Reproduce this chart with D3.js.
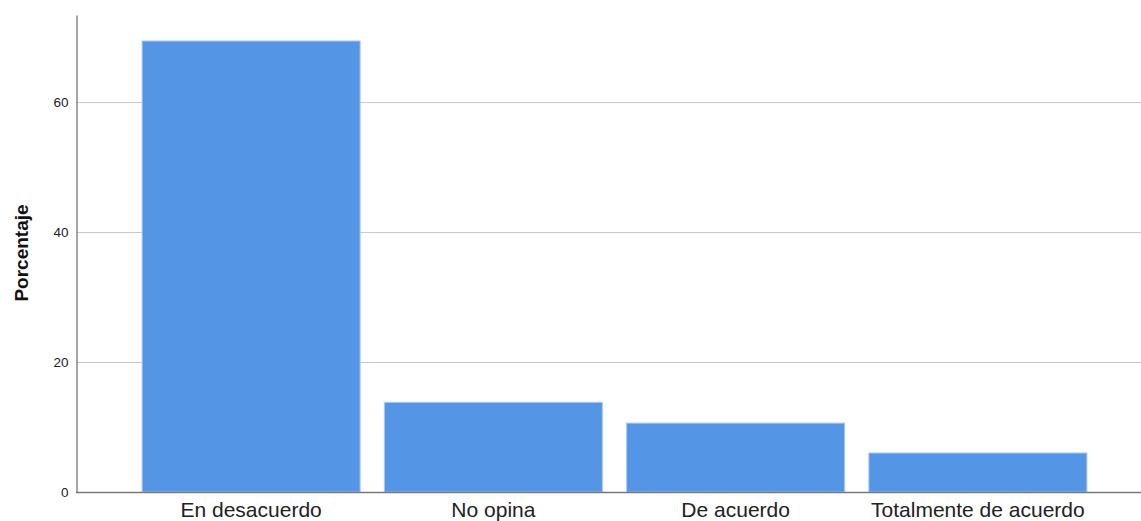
<!DOCTYPE html>
<html>
<head>
<meta charset="utf-8">
<script src="https://cdn.jsdelivr.net/npm/d3@7"></script>
<style>
html,body{margin:0;padding:0;background:#fff;}
svg{display:block;}
</style>
</head>
<body>
<svg id="chart" width="1141" height="521"></svg>
<script>
const categories = ["En desacuerdo", "No opina", "De acuerdo", "Totalmente de acuerdo"];
const values = [69.4, 13.8, 10.6, 6.0];
const yTicks = [0, 20, 40, 60];
const yLabel = "Porcentaje";

const svg = d3.select("#chart");
const x0 = 76, x1 = 1141, yBase = 492, yTop = 15;
const font = "Liberation Sans, Arial, sans-serif";

const y = d3.scaleLinear().domain([0, 73.4]).range([yBase, yTop]);
const x = d3.scaleBand().domain(categories).range([130, 1099]).paddingInner(0.1).paddingOuter(0.05);

// gridlines
svg.append("g").selectAll("line").data(yTicks.filter(d => d > 0)).join("line")
  .attr("x1", x0).attr("x2", x1)
  .attr("y1", d => y(d) + 0.5).attr("y2", d => y(d) + 0.5)
  .attr("stroke", "#c8c8c8").attr("stroke-width", 1);

// bars
svg.append("g").selectAll("rect").data(categories).join("rect")
  .attr("x", d => x(d))
  .attr("y", (d, i) => y(values[i]))
  .attr("width", x.bandwidth())
  .attr("height", (d, i) => yBase - y(values[i]))
  .attr("fill", "#5595e5")
  .attr("stroke", "#a9c9f0").attr("stroke-width", 1);

// y axis
const yAxis = d3.axisLeft(y).tickValues(yTicks).tickSize(0).tickPadding(8).tickFormat(d3.format("d"));
const gy = svg.append("g").attr("transform", `translate(${x0 + 0.5},0)`).call(yAxis);
gy.select(".domain").attr("stroke", "#888").attr("stroke-width", 1.5);
gy.selectAll("text").attr("font-family", font).attr("font-size", 13.5).attr("fill", "#222");

// x axis
const xAxis = d3.axisBottom(x).tickSize(0).tickPadding(10);
const gx = svg.append("g").attr("transform", `translate(0,${yBase + 0.5})`).call(xAxis);
gx.select(".domain").remove();
gx.append("line").attr("x1", x0).attr("x2", x1).attr("y1", 0).attr("y2", 0).attr("stroke", "#777").attr("stroke-width", 1.5);
gx.selectAll("text").attr("font-family", font).attr("font-size", 21).attr("fill", "#222");

// y label
svg.append("text")
  .attr("transform", "translate(28,253) rotate(-90)")
  .attr("text-anchor", "middle")
  .attr("font-family", font)
  .attr("font-size", 19).attr("font-weight", "bold").attr("fill", "#111")
  .text(yLabel);
</script>
</body>
</html>
